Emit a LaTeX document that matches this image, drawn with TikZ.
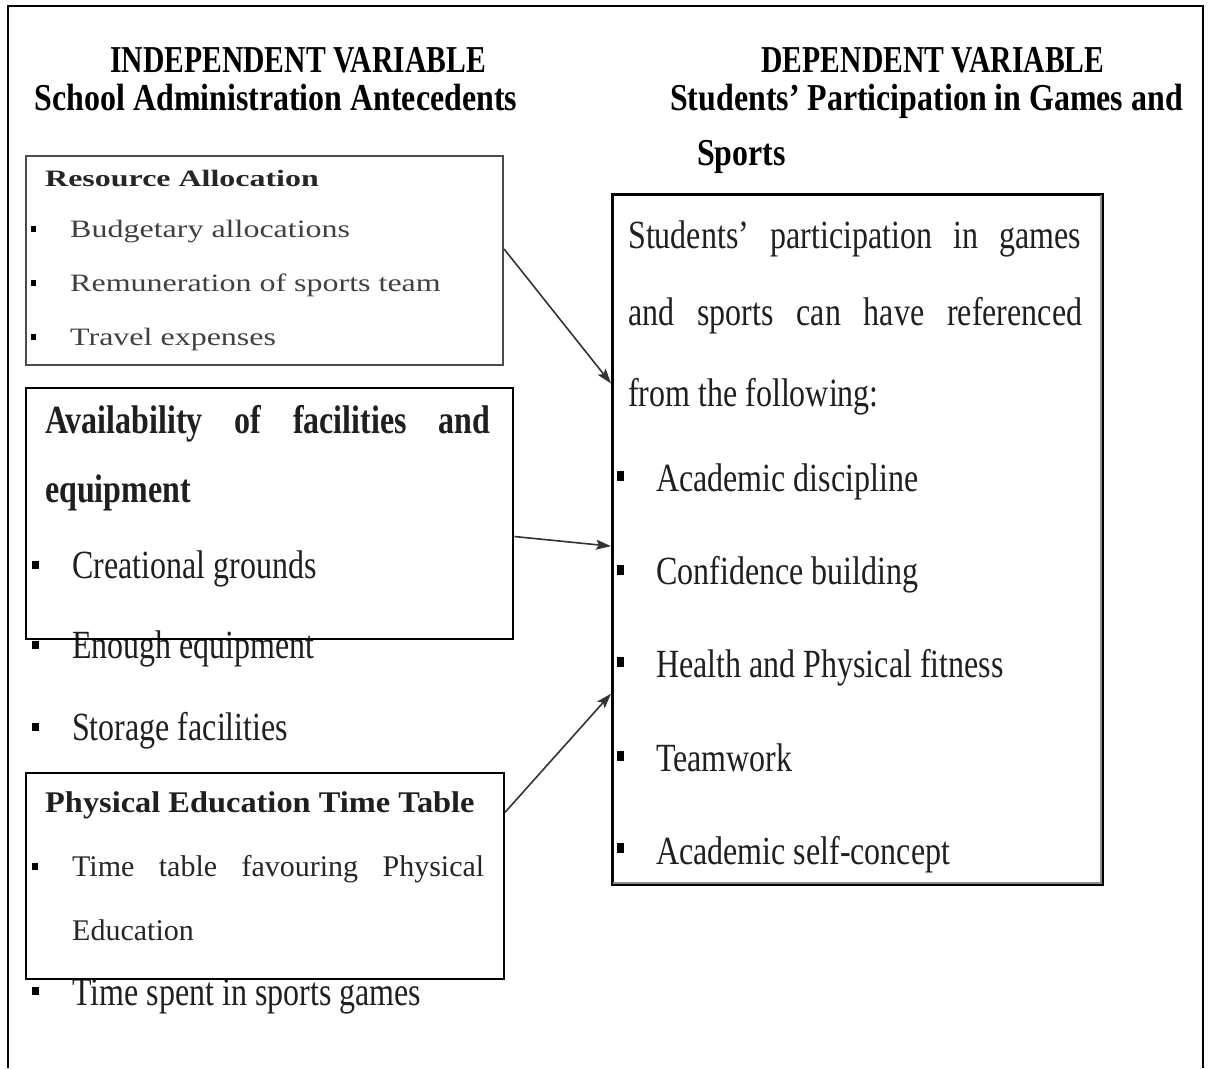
\documentclass[tikz,border=0pt]{standalone}
\usepackage{fontspec}
\setmainfont{Liberation Serif}
\newfontfamily\fTitle{Liberation Serif}[FakeStretch=0.84]
\newfontfamily\fCaps{Liberation Serif}[FakeStretch=0.78]
\newfontfamily\fBig{Liberation Serif}[FakeStretch=0.8]
\newfontfamily\fOneH{Liberation Serif}[FakeStretch=1.36]
\newfontfamily\fOne{Liberation Serif}[FakeStretch=1.28]
\newfontfamily\fThreeH{Liberation Serif}[FakeStretch=1.08]
\newfontfamily\fThree{Liberation Serif}[FakeStretch=1.0]
\usetikzlibrary{calc,arrows.meta}
\tikzset{
  txt/.style={inner sep=0pt, anchor=base west, text=black!88},
  ctxt/.style={inner sep=0pt, anchor=base, text=black},
  ttl/.style={ctxt, font=\fTitle\bfseries\fontsize{38}{44}\selectfont},
  ttlcaps/.style={ctxt, font=\fCaps\bfseries\fontsize{38}{44}\selectfont},
  big/.style={txt, font=\fBig\fontsize{40}{46}\selectfont},
  bigb/.style={txt, font=\fBig\bfseries\fontsize{40}{46}\selectfont},
  oneh/.style={txt, text=black!85, font=\fOneH\bfseries\fontsize{23.5}{28}\selectfont},
  one/.style={txt, text=black!75, font=\fOne\fontsize{25}{30}\selectfont},
  threeh/.style={txt, font=\fThreeH\bfseries\fontsize{30}{36}\selectfont},
  three/.style={txt, text=black!85, font=\fThree\fontsize{30}{36}\selectfont},
  frame/.style={draw, inner sep=0pt, anchor=north west},
  bul/.style={fill=black, draw=none, inner sep=0pt},
  arr/.style={-{Stealth[length=15pt,width=10pt,inset=3pt]}, line width=1.6pt, draw=black!80}
}
\begin{document}
\begin{tikzpicture}[x=1pt,y=-1pt]
\useasboundingbox (0,0) rectangle (1209,1068);
% outer frame
\draw[line width=2.6pt] (8,1068) -- (8,6) -- (1203,6) -- (1203,1068);

% titles
\node[ttlcaps] (t1) at (298,72) {INDEPENDENT VARIABLE};
\node[ttl] (t2) at (276,110) {School Administration Antecedents};
\node[ttlcaps] (t3) at (933,72) {DEPENDENT VARIABLE};
\node[ttl, anchor=base west] (t4) at (670,110) {Students’ Participation in Games and};
\node[ttl, anchor=base west] (t5) at (697,165) {Sports};

% box 1 text
\node[oneh] (r0) at (45,186) {Resource Allocation};
\node[one] (r1) at (70,237) {Budgetary allocations};
\node[one] (r2) at (70,291) {Remuneration of sports team};
\node[one] (r3) at (70,345) {Travel expenses};
\node[bul, minimum width=5pt, minimum height=6pt] (rb1) at (33.5,229) {};
\node[bul, minimum width=5pt, minimum height=6pt] (rb2) at (33.5,283) {};
\node[bul, minimum width=5pt, minimum height=6pt] (rb3) at (33.5,337) {};

% box 2 text
\node[bigb] (a0) at (45,433) {\makebox[445pt][s]{Availability of facilities and}};
\node[bigb] (a1) at (45,502) {equipment};
\node[big] (a2) at (72,578) {Creational grounds};
\node[big] (a3) at (72,658) {Enough equipment};
\node[big] (a4) at (72,740) {Storage facilities};
\node[bul, minimum width=7pt, minimum height=8pt] (ab2) at (35,565) {};
\node[bul, minimum width=7pt, minimum height=8pt] (ab3) at (35,645) {};
\node[bul, minimum width=7pt, minimum height=8pt] (ab4) at (35,727) {};

% box 3 text
\node[threeh] (p0) at (45,812) {Physical Education Time Table};
\node[three] (p1) at (72,876) {\makebox[412pt][s]{Time table favouring Physical}};
\node[three] (p2) at (72,940) {Education};
\node[big] (p3) at (72,1005) {Time spent in sports games};
\node[bul, minimum width=6pt, minimum height=7pt] (pb1) at (35,866) {};
\node[bul, minimum width=7pt, minimum height=8pt] (pb3) at (35,991) {};

% right box text
\node[big] (s1) at (628,248) {\makebox[453pt][s]{Students’ participation in games}};
\node[big] (s2) at (628,325) {\makebox[454pt][s]{and sports can have referenced}};
\node[big] (s3) at (628,406) {from the following:};
\node[big] (s4) at (656,491) {Academic discipline};
\node[big] (s5) at (656,584) {Confidence building};
\node[big] (s6) at (656,677) {Health and Physical fitness};
\node[big] (s7) at (656,771) {Teamwork};
\node[big] (s8) at (656,864) {Academic self-concept};
\node[bul, minimum width=7pt, minimum height=10pt] (sb4) at (620.5,476) {};
\node[bul, minimum width=7pt, minimum height=10pt] (sb5) at (620.5,570) {};
\node[bul, minimum width=7pt, minimum height=10pt] (sb6) at (620.5,662) {};
\node[bul, minimum width=7pt, minimum height=10pt] (sb7) at (620.5,756) {};
\node[bul, minimum width=7pt, minimum height=10pt] (sb8) at (620.5,848) {};

% boxes
\node[frame, draw=black!70, line width=2pt, minimum width=477pt, minimum height=209pt] (box1) at (25,155) {};
\node[frame, line width=2.4pt, minimum width=487pt, minimum height=251pt] (box2) at (25,387) {};
\node[frame, line width=2pt, minimum width=478pt, minimum height=206pt] (box3) at (25,772) {};
\node[frame, line width=2.5pt, minimum width=490pt, minimum height=690pt] (rbox) at (611,193) {};
\draw[black!45, line width=1.2pt] ($(rbox.south west)+(2,-2.5)$) -- ($(rbox.south east)+(-2.5,-2.5)$) -- ($(rbox.north east)+(-2.5,2)$);

% arrows
\draw[arr] ($(box1.north east)!0.445!(box1.south east)$) -- ($(rbox.north west)!0.275!(rbox.south west)$);
\draw[arr] ($(box2.north east)!0.59!(box2.south east)$) -- ($(rbox.north west)!0.51!(rbox.south west)$);
\draw[arr] ($(box3.north east)!0.194!(box3.south east)$) -- ($(rbox.north west)!0.723!(rbox.south west)$);
\end{tikzpicture}
\end{document}
